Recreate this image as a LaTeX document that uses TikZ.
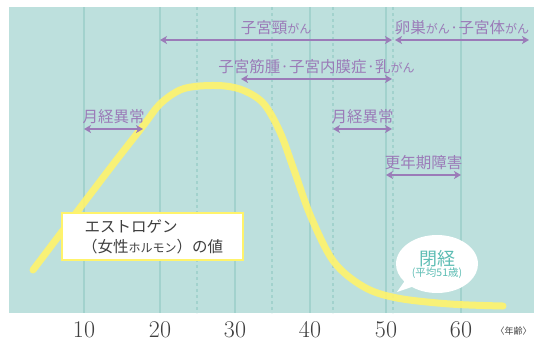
\documentclass[tikz,border=0pt]{standalone}
\usepackage{fontspec}
\newfontfamily\jp{Noto Sans CJK JP}
\usetikzlibrary{positioning, shapes, arrows.meta}

\definecolor{bgteal}{HTML}{BDE0DD}
\definecolor{gridteal}{HTML}{A2D2CD}
\definecolor{lilac}{HTML}{9B7BB8}
\definecolor{hormone}{HTML}{FFF36B}
\definecolor{textteal}{HTML}{5DBDB4}
\definecolor{ink}{HTML}{3F3F3F}

\newcommand{\kana}[1]{{\fontsize{12}{14}\selectfont #1}}

\begin{document}
\begin{tikzpicture}[x=1pt, y=-1pt, thick,
    span/.style={{Stealth[length=7pt, width=8pt, inset=2pt]}-{Stealth[length=7pt, width=8pt, inset=2pt]}, draw=lilac, line width=1.8pt},
    risk/.style={text=lilac, font=\jp\fontsize{15.5}{17}\selectfont, inner sep=1pt},
    tick/.style={text=ink, font=\fontsize{24}{26}\selectfont},
    grid/.style={draw=gridteal, line width=2.4pt},
    subgrid/.style={draw=gridteal, line width=1.2pt, dash pattern=on 3pt off 3pt}]

    \useasboundingbox (0,0) rectangle (534,341);
    \fill[bgteal] (9,7) rectangle (534,313);

    % Grid
    \foreach \x in {84,160,235,310,386,461}
        \draw[grid] (\x,7) -- (\x,313);
    \foreach \x in {197,272,333,393}
        \draw[subgrid] (\x,7) -- (\x,313);

    % Ages
    \foreach \x/\a in {84/10,160/20,235/30,310/40,386/50,461/60}
        \node[tick] (age\a) at (\x,330) {\a};
    \node[text=ink, font=\jp\fontsize{9}{11}\selectfont, anchor=east, inner sep=1pt] (unit) at (533,331) {〈年齢〉};

    % Curve
    \draw[hormone, opacity=0.9, line width=7pt, line cap=round] plot[smooth, tension=0.55] coordinates {
        (33,270) (108,171) (143,126) (160,104) (180,90) (200,86) (225,86) (245,91)
        (264,104) (280,132) (294,170) (311,217) (334,262) (364,287) (397,298) (450,304) (503,306)};

    % Span ends
    \coordinate (cervixL) at (160,40);
    \coordinate (cervixR) at (392,40);
    \coordinate (ovaryL) at (395,40);
    \coordinate (ovaryR) at (529,40);
    \coordinate (myomaL) at (241,79);
    \coordinate (myomaR) at (392,79);
    \coordinate (teenL) at (84,129);
    \coordinate (teenR) at (143,129);
    \coordinate (lateL) at (333,129);
    \coordinate (lateR) at (392,129);
    \coordinate (climaxL) at (386,175);
    \coordinate (climaxR) at (461,175);

    % Arrows
    \draw[span] (cervixL) -- node[risk, above=3pt] {子宮頸\kana{がん}} (cervixR);
    \draw[span] (ovaryL) -- node[risk, above=3pt] {卵巣\kana{がん}·子宮体\kana{がん}} (ovaryR);
    \draw[span] (myomaL) -- node[risk, above=3pt] {子宮筋腫·子宮内膜症·乳\kana{がん}} (myomaR);
    \draw[span] (teenL) -- node[risk, above=3pt] {月経異常} (teenR);
    \draw[span] (lateL) -- node[risk, above=3pt] {月経異常} (lateR);
    \draw[span] (climaxL) -- node[risk, above=3pt] {更年期障害} (climaxR);

    % Nodes
    \node[draw=hormone, fill=white, line width=2.8pt, minimum width=181pt, minimum height=47pt,
        align=left, text=ink, font=\jp\fontsize{15.5}{20}\selectfont] (estrogen) at (152.5,236.5)
        {\,エストロゲン\\（女性\kana{ホルモン}）の値};
    \node[ellipse callout, fill=white, minimum width=82pt, minimum height=58pt, inner sep=0pt,
        callout absolute pointer={(397,292)}, align=center, text=textteal] (menopause) at (437,264)
        {{\jp\fontsize{18}{20}\selectfont 閉経}\\[-1pt]{\jp\fontsize{10.5}{12}\selectfont (平均51歳)}};
\end{tikzpicture}
\end{document}
